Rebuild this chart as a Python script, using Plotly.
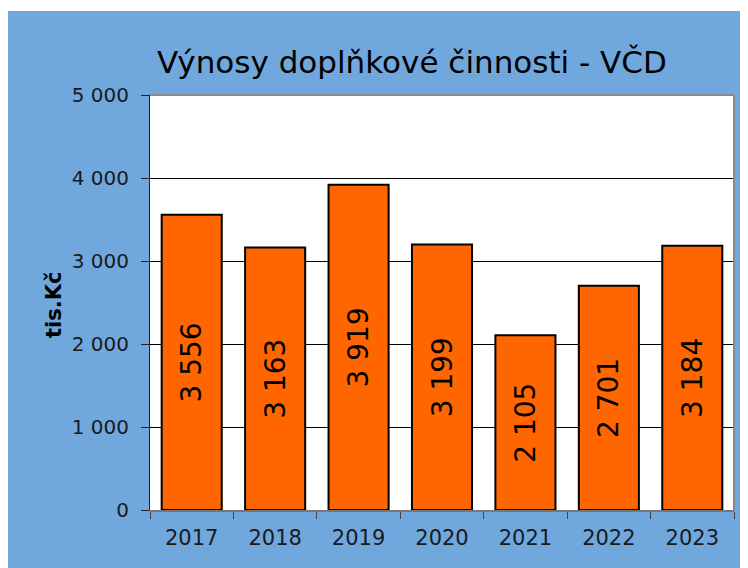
import plotly.graph_objects as go

years = ["2017", "2018", "2019", "2020", "2021", "2022", "2023"]
values = [3556, 3163, 3919, 3199, 2105, 2701, 3184]
labels = ["3 556", "3 163", "3 919", "3 199", "2 105", "2 701", "3 184"]
y_ticks = [0, 1000, 2000, 3000, 4000, 5000]
y_tick_labels = ["0", "1 000", "2 000", "3 000", "4 000", "5 000"]

W, H = 740, 560
L, R, T, B = 142, 14, 87, 58
pw, ph = W - L - R, H - T - B

def px(x):
    return (x - L) / pw

def py(y):
    return (H - B - y) / ph

FONT = "DejaVu Sans"
BLUE = "#70A8DE"

fig = go.Figure(go.Bar(
    x=years, y=values, text=labels,
    textposition="inside", insidetextanchor="middle", textangle=-90,
    textfont=dict(family=FONT, size=28, color="black"),
    marker=dict(color="#FF6600", line=dict(color="black", width=2)),
    width=0.72,
))

fig.update_layout(
    width=W, height=H,
    margin=dict(l=L, r=R, t=T, b=B, pad=0),
    paper_bgcolor=BLUE, plot_bgcolor="white",
    showlegend=False,
    shapes=[
        dict(type="rect", xref="paper", yref="paper", layer="below",
             x0=px(-5), x1=px(W + 5), y0=py(3), y1=py(-5),
             fillcolor="white", line=dict(width=0)),
        dict(type="line", xref="paper", yref="paper", x0=0, x1=1, y0=1, y1=1,
             line=dict(color="#8a8a8a", width=2)),
        dict(type="line", xref="paper", yref="paper", x0=1, x1=1, y0=0, y1=1,
             line=dict(color="#8a8a8a", width=2)),
    ],
    annotations=[
        dict(text="Výnosy doplňkové činnosti - VČD", xref="paper", yref="paper",
             x=px(404), y=py(54), xanchor="center", yanchor="middle",
             showarrow=False, font=dict(family=FONT, size=31, color="black")),
        dict(text="<b>tis.Kč</b>", xref="paper", yref="paper",
             x=px(46), y=py(297), xanchor="center", yanchor="middle",
             textangle=-90, showarrow=False,
             font=dict(family=FONT, size=21, color="black")),
    ],
)

fig.update_xaxes(
    type="category", tickson="boundaries", ticks="outside", ticklen=7,
    tickcolor="#444", tickwidth=1,
    showline=True, linecolor="#777", linewidth=2,
    showgrid=False, ticklabelstandoff=8,
    tickfont=dict(family=FONT, size=21, color="#1a1a1a"),
)
fig.update_yaxes(
    range=[0, 5000], tickvals=y_ticks, ticktext=y_tick_labels,
    ticks="outside", ticklen=8, tickcolor="#222", tickwidth=1,
    showline=True, linecolor="#222", linewidth=1,
    showgrid=True, gridcolor="black", gridwidth=1,
    zeroline=False, ticklabelstandoff=8,
    tickfont=dict(family=FONT, size=20, color="#1a1a1a"),
)

fig.write_html(
    "out.html",
    post_script="document.documentElement.style.overflow='hidden';"
                "document.body.style.overflow='hidden';",
)
